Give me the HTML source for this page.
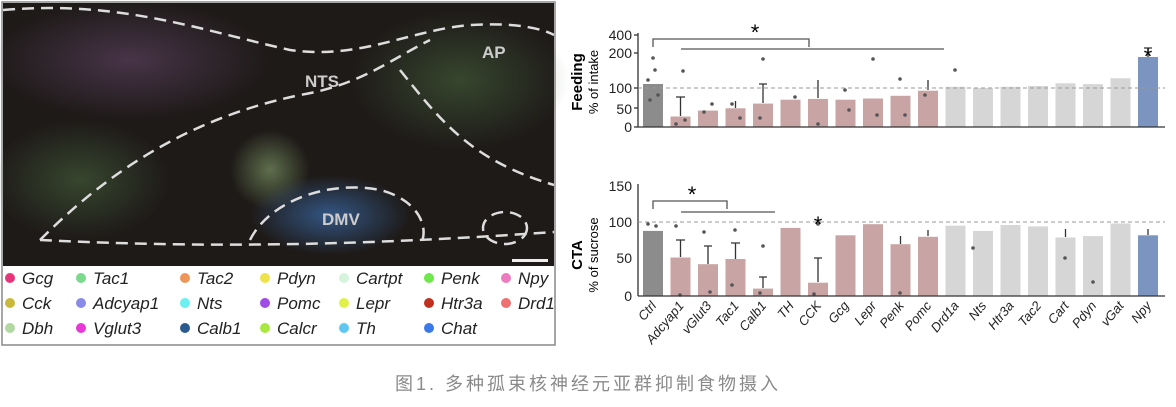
<!DOCTYPE html>
<html><head><meta charset="utf-8"><style>
body{margin:0;background:#fff;width:1176px;height:402px;overflow:hidden;font-family:"Liberation Sans",sans-serif}
</style></head><body>
<svg width="1176" height="402" viewBox="0 0 1176 402" xmlns="http://www.w3.org/2000/svg" font-family="Liberation Sans, sans-serif">
<defs>
<radialGradient id="g1"><stop offset="0" stop-color="#8aa870" stop-opacity=".6"/><stop offset="1" stop-color="#8aa870" stop-opacity="0"/></radialGradient>
<radialGradient id="g2"><stop offset="0" stop-color="#3a6aa8" stop-opacity=".75"/><stop offset="1" stop-color="#3a6aa8" stop-opacity="0"/></radialGradient>
<radialGradient id="g3"><stop offset="0" stop-color="#6a4a70" stop-opacity=".55"/><stop offset="1" stop-color="#6a4a70" stop-opacity="0"/></radialGradient>
<radialGradient id="g4"><stop offset="0" stop-color="#4a6a40" stop-opacity=".55"/><stop offset="1" stop-color="#4a6a40" stop-opacity="0"/></radialGradient>
</defs>
<rect x="2" y="2" width="553" height="343" fill="#fff" stroke="#888" stroke-width="1.5"/>
<rect x="3" y="3" width="551" height="263" fill="#1e1a18"/>
<ellipse cx="130" cy="60" rx="140" ry="60" fill="url(#g3)"/>
<ellipse cx="460" cy="80" rx="110" ry="70" fill="url(#g4)"/>
<ellipse cx="270" cy="170" rx="40" ry="40" fill="url(#g1)"/>
<ellipse cx="330" cy="215" rx="80" ry="40" fill="url(#g2)"/>
<ellipse cx="80" cy="180" rx="90" ry="60" fill="url(#g4)"/>
<g fill="none" stroke="#ddd" stroke-width="2.5" stroke-dasharray="12,7">
<path d="M3,10 C120,0 200,30 290,50 C360,60 410,30 470,25 C520,22 545,30 554,35"/>
<path d="M40,240 C100,180 180,120 300,95 C360,85 390,60 430,40"/>
<path d="M40,240 C150,245 300,250 554,232"/>
<path d="M250,240 C270,200 330,180 380,190 C420,200 430,230 420,245"/>
<path d="M400,70 C440,120 470,160 554,185"/>
<ellipse cx="505" cy="228" rx="22" ry="16"/>
</g>
<g fill="#ccc" font-weight="bold" font-size="17">
<text x="305" y="87">NTS</text><text x="482" y="58">AP</text><text x="322" y="225">DMV</text></g>
<rect x="512" y="259" width="36" height="3" fill="#eee"/>
<g font-size="17" font-style="italic" fill="#222">
<circle cx="10" cy="278" r="5" fill="#e8357a"/><text x="22" y="284">Gcg</text>
<circle cx="81" cy="278" r="5" fill="#7ad98a"/><text x="93" y="284">Tac1</text>
<circle cx="185" cy="278" r="5" fill="#f0955a"/><text x="197" y="284">Tac2</text>
<circle cx="265" cy="278" r="5" fill="#f0e24a"/><text x="277" y="284">Pdyn</text>
<circle cx="344" cy="278" r="5" fill="#d4f5dc"/><text x="356" y="284">Cartpt</text>
<circle cx="429" cy="278" r="5" fill="#6ee84a"/><text x="441" y="284">Penk</text>
<circle cx="506" cy="278" r="5" fill="#ee7ac0"/><text x="518" y="284">Npy</text>
<circle cx="10" cy="303" r="5" fill="#c9b83a"/><text x="22" y="309">Cck</text>
<circle cx="81" cy="303" r="5" fill="#8a8ae8"/><text x="93" y="309">Adcyap1</text>
<circle cx="185" cy="303" r="5" fill="#6af0f0"/><text x="197" y="309">Nts</text>
<circle cx="265" cy="303" r="5" fill="#a04ae8"/><text x="277" y="309">Pomc</text>
<circle cx="344" cy="303" r="5" fill="#e0f04a"/><text x="356" y="309">Lepr</text>
<circle cx="429" cy="303" r="5" fill="#c03020"/><text x="441" y="309">Htr3a</text>
<circle cx="506" cy="303" r="5" fill="#ee7070"/><text x="518" y="309">Drd1</text>
<circle cx="10" cy="328" r="5" fill="#b0d8a0"/><text x="22" y="334">Dbh</text>
<circle cx="81" cy="328" r="5" fill="#e838d8"/><text x="93" y="334">Vglut3</text>
<circle cx="185" cy="328" r="5" fill="#2a5a90"/><text x="197" y="334">Calb1</text>
<circle cx="265" cy="328" r="5" fill="#a8e840"/><text x="277" y="334">Calcr</text>
<circle cx="344" cy="328" r="5" fill="#60c8f0"/><text x="356" y="334">Th</text>
<circle cx="429" cy="328" r="5" fill="#3a7ae8"/><text x="441" y="334">Chat</text>
</g>

<!-- top bars -->
<g>
<rect x="643" y="84" width="20" height="43" fill="#8c8c8c"/>
<g fill="#c9a4a4">
<rect x="670.5" y="116.5" width="20" height="10.5"/>
<rect x="698" y="110.6" width="20" height="16.4"/>
<rect x="725.5" y="108.3" width="20" height="18.7"/>
<rect x="753" y="103.6" width="20" height="23.4"/>
<rect x="780.5" y="99.7" width="20" height="27.3"/>
<rect x="808" y="98.9" width="20" height="28.1"/>
<rect x="835.5" y="99.7" width="20" height="27.3"/>
<rect x="863" y="98.5" width="20" height="28.5"/>
<rect x="890.5" y="95.8" width="20" height="31.2"/>
<rect x="918" y="90.7" width="20" height="36.3"/>
</g>
<g fill="#d6d6d6">
<rect x="945.5" y="86.8" width="20" height="40.2"/>
<rect x="973" y="88" width="20" height="39"/>
<rect x="1000.5" y="86.8" width="20" height="40.2"/>
<rect x="1028" y="86" width="20" height="41"/>
<rect x="1055.5" y="83.3" width="20" height="43.7"/>
<rect x="1083" y="84.1" width="20" height="42.9"/>
<rect x="1110.5" y="78.2" width="20" height="48.8"/>
</g>
<rect x="1138" y="57" width="20" height="70" fill="#7b94c0"/>
</g>
<!-- bottom bars -->
<g>
<rect x="643" y="230.9" width="20" height="65.1" fill="#8c8c8c"/>
<g fill="#c9a4a4">
<rect x="670.5" y="257.5" width="20" height="38.5"/>
<rect x="698" y="264.2" width="20" height="31.8"/>
<rect x="725.5" y="259" width="20" height="37"/>
<rect x="753" y="288.6" width="20" height="7.4"/>
<rect x="780.5" y="227.9" width="20" height="68.1"/>
<rect x="808" y="282.7" width="20" height="13.3"/>
<rect x="835.5" y="235.3" width="20" height="60.7"/>
<rect x="863" y="224.2" width="20" height="71.8"/>
<rect x="890.5" y="244.2" width="20" height="51.8"/>
<rect x="918" y="236.8" width="20" height="59.2"/>
</g>
<g fill="#d6d6d6">
<rect x="945.5" y="225.7" width="20" height="70.3"/>
<rect x="973" y="230.9" width="20" height="65.1"/>
<rect x="1000.5" y="225" width="20" height="71"/>
<rect x="1028" y="226.4" width="20" height="69.6"/>
<rect x="1055.5" y="237.5" width="20" height="58.5"/>
<rect x="1083" y="236.1" width="20" height="59.9"/>
<rect x="1110.5" y="223.5" width="20" height="72.5"/>
</g>
<rect x="1138" y="235.3" width="20" height="60.7" fill="#7b94c0"/>
</g>
<!-- error bars -->
<g stroke="#333" stroke-width="1.3" fill="none">
<path d="M680.5,116 V97 M676,97 H685 M735.5,108 V101 M763,103 V84 M759,84 H767 M818,98 V80 M928,90 V80 M1148,57 V48 M1144,48 H1152"/>
<path d="M680.5,257 V240 M676,240 H685 M708,264 V246 M704,246 H712 M735.5,259 V243 M731,243 H740 M763,288 V277 M759,277 H767 M818,282 V258 M814,258 H822 M900.5,244 V236 M928,236 V230 M1065.5,237 V229 M1148,235 V229"/>
</g>
<!-- dots -->
<g fill="#555">
<circle cx="648" cy="80" r="1.8"/><circle cx="655" cy="70" r="1.8"/><circle cx="658" cy="95" r="1.8"/><circle cx="650" cy="100" r="1.8"/><circle cx="653" cy="58" r="1.8"/>
<circle cx="676" cy="124" r="1.8"/><circle cx="683" cy="71" r="1.8"/><circle cx="685" cy="120" r="1.8"/>
<circle cx="704" cy="112" r="1.8"/><circle cx="712" cy="104" r="1.8"/><circle cx="732" cy="104" r="1.8"/><circle cx="740" cy="118" r="1.8"/>
<circle cx="763" cy="59" r="1.8"/><circle cx="760" cy="118" r="1.8"/><circle cx="795" cy="97" r="1.8"/><circle cx="818" cy="124" r="1.8"/>
<circle cx="845" cy="90" r="1.8"/><circle cx="849" cy="110" r="1.8"/><circle cx="873" cy="59" r="1.8"/><circle cx="877" cy="115" r="1.8"/>
<circle cx="900" cy="79" r="1.8"/><circle cx="905" cy="115" r="1.8"/><circle cx="925" cy="95" r="1.8"/><circle cx="955" cy="70" r="1.8"/>
<circle cx="648" cy="224" r="1.8"/><circle cx="656" cy="226" r="1.8"/><circle cx="676" cy="226" r="1.8"/><circle cx="680" cy="295" r="1.8"/><circle cx="704" cy="232" r="1.8"/><circle cx="710" cy="292" r="1.8"/>
<circle cx="735" cy="230" r="1.8"/><circle cx="732" cy="285" r="1.8"/><circle cx="763" cy="246" r="1.8"/><circle cx="760" cy="293" r="1.8"/><circle cx="818" cy="224" r="1.8"/><circle cx="814" cy="294" r="1.8"/>
<circle cx="900" cy="293" r="1.8"/><circle cx="1065" cy="258" r="1.8"/><circle cx="1093" cy="282" r="1.8"/><circle cx="973" cy="248" r="1.8"/>
</g>
<!-- top axes -->
<g transform="translate(582,82) rotate(-90)"><text x="0" y="0" text-anchor="middle" font-weight="bold" font-size="15">Feeding</text><text x="0" y="16" text-anchor="middle" font-size="13">% of intake</text></g>
<line x1="638" y1="33" x2="638" y2="127" stroke="#333" stroke-width="1.3"/>
<line x1="638" y1="127" x2="1165" y2="127" stroke="#333" stroke-width="1.3"/>
<g font-size="14" fill="#222" text-anchor="end">
<text x="632" y="40">400</text><text x="632" y="58">200</text><text x="632" y="93">100</text><text x="632" y="114">50</text><text x="632" y="132">0</text></g>
<g stroke="#333" stroke-width="1.3"><line x1="634" y1="35" x2="638" y2="35"/><line x1="634" y1="53" x2="638" y2="53"/><line x1="634" y1="88" x2="638" y2="88"/><line x1="634" y1="108" x2="638" y2="108"/><line x1="634" y1="127" x2="638" y2="127"/></g>
<line x1="638" y1="88" x2="1165" y2="88" stroke="#999" stroke-dasharray="4,3"/>
<path d="M653,47 V39 H809 V47 M681,49 H944" fill="none" stroke="#555" stroke-width="1.3"/>
<text x="755" y="40" font-size="22" text-anchor="middle">*</text>
<text x="1148" y="64" font-size="22" text-anchor="middle">*</text>
<!-- bottom axes -->
<g transform="translate(582,255) rotate(-90)"><text x="0" y="0" text-anchor="middle" font-weight="bold" font-size="15">CTA</text><text x="0" y="16" text-anchor="middle" font-size="13">% of sucrose</text></g>
<line x1="638" y1="184" x2="638" y2="296" stroke="#333" stroke-width="1.3"/>
<line x1="638" y1="296" x2="1165" y2="296" stroke="#333" stroke-width="1.3"/>
<g font-size="14" fill="#222" text-anchor="end">
<text x="632" y="191">150</text><text x="632" y="227">100</text><text x="632" y="263">50</text><text x="632" y="301">0</text></g>
<line x1="638" y1="222" x2="1165" y2="222" stroke="#999" stroke-dasharray="4,3"/>
<path d="M653,209 V201 H727 V209 M681,212 H775" fill="none" stroke="#555" stroke-width="1.3"/>
<text x="692" y="202" font-size="22" text-anchor="middle">*</text>
<text x="818" y="232" font-size="22" text-anchor="middle">*</text>
<!-- labels -->
<g font-size="13" font-style="italic" fill="#222" text-anchor="end">
<text transform="translate(657,306) rotate(-50)">Ctrl</text>
<text transform="translate(684.5,306) rotate(-50)">Adcyap1</text>
<text transform="translate(712,306) rotate(-50)">vGlut3</text>
<text transform="translate(739.5,306) rotate(-50)">Tac1</text>
<text transform="translate(767,306) rotate(-50)">Calb1</text>
<text transform="translate(794.5,306) rotate(-50)">TH</text>
<text transform="translate(822,306) rotate(-50)">CCK</text>
<text transform="translate(849.5,306) rotate(-50)">Gcg</text>
<text transform="translate(877,306) rotate(-50)">Lepr</text>
<text transform="translate(904.5,306) rotate(-50)">Penk</text>
<text transform="translate(932,306) rotate(-50)">Pomc</text>
<text transform="translate(959.5,306) rotate(-50)">Drd1a</text>
<text transform="translate(987,306) rotate(-50)">Nts</text>
<text transform="translate(1014.5,306) rotate(-50)">Htr3a</text>
<text transform="translate(1042,306) rotate(-50)">Tac2</text>
<text transform="translate(1069.5,306) rotate(-50)">Cart</text>
<text transform="translate(1097,306) rotate(-50)">Pdyn</text>
<text transform="translate(1124.5,306) rotate(-50)">vGat</text>
<text transform="translate(1152,306) rotate(-50)">Npy</text>
</g>
<text x="588" y="390" font-size="18" fill="#8a8a8a" text-anchor="middle" letter-spacing="3" font-family="Liberation Sans, Noto Sans CJK SC, sans-serif">图1. 多种孤束核神经元亚群抑制食物摄入</text>
</svg>
</body></html>
